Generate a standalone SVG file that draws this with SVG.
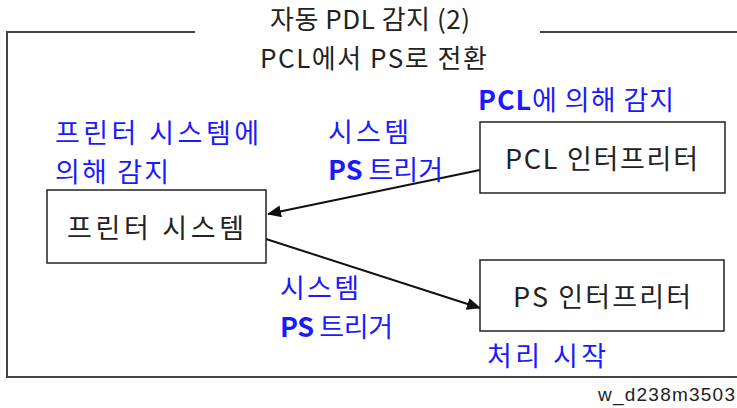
<svg xmlns="http://www.w3.org/2000/svg" width="737" height="408" viewBox="0 0 737 408">
<style>
text{font-family:"Noto Sans CJK KR","Noto Sans",sans-serif;}
.t{font-size:27px;fill:#222;}
.h{font-size:26px;fill:#222;}
.b{font-size:27px;fill:#1a1aff;}
.bb{font-weight:bold;}
.n{fill:#fff;stroke:#222;stroke-width:1.5;}
.c{stroke:#111;stroke-width:2;fill:none;marker-end:url(#ah);}
.f{stroke:#444;stroke-width:2;fill:none;}
</style>
<defs>
<marker id="ah" markerWidth="14" markerHeight="12" refX="13" refY="6" orient="auto" markerUnits="userSpaceOnUse">
<path d="M0,0 L14,6 L0,12 Z" fill="#111"/>
</marker>
</defs>
<g id="frame">
<path class="f" d="M195,32 H7 V377 H737"/>
<path class="f" d="M540,32 H737"/>
<text class="h" x="270" y="29" textLength="200" lengthAdjust="spacing">자동 PDL 감지 (2)</text>
<text class="h" x="260" y="68" textLength="227" lengthAdjust="spacing">PCL에서 PS로 전환</text>
</g>
<g id="connectors">
<line class="c" x1="480" y1="170" x2="268" y2="214"/>
<line class="c" x1="266" y1="239" x2="480" y2="308"/>
</g>
<g id="printer-system">
<rect class="n" x="47" y="190" width="219" height="73"/>
<text class="t" x="67" y="238" textLength="177" lengthAdjust="spacing">프린터 시스템</text>
</g>
<g id="pcl-interpreter">
<rect class="n" x="480" y="122" width="245" height="71"/>
<text class="t" x="505" y="169" textLength="193" lengthAdjust="spacing">PCL 인터프리터</text>
</g>
<g id="ps-interpreter">
<rect class="n" x="480" y="260" width="244" height="71"/>
<text class="t" x="513" y="307" textLength="178" lengthAdjust="spacing">PS 인터프리터</text>
</g>
<g id="labels">
<text class="b" x="55" y="143" textLength="204" lengthAdjust="spacing">프린터 시스템에</text>
<text class="b" x="55" y="182" textLength="114" lengthAdjust="spacing">의해 감지</text>
<text class="b" x="328" y="142" textLength="81" lengthAdjust="spacing">시스템</text>
<text class="b" x="328" y="180" textLength="115" lengthAdjust="spacing"><tspan class="bb">PS</tspan> 트리거</text>
<text class="b" x="478" y="110" textLength="196" lengthAdjust="spacing"><tspan class="bb">PCL</tspan>에 의해 감지</text>
<text class="b" x="280" y="298" textLength="79" lengthAdjust="spacing">시스템</text>
<text class="b" x="280" y="337" textLength="113" lengthAdjust="spacing"><tspan class="bb">PS</tspan> 트리거</text>
<text class="b" x="487" y="366" textLength="119" lengthAdjust="spacing">처리 시작</text>
<text x="598" y="401" textLength="137" lengthAdjust="spacing" style="font-family:'Liberation Sans',sans-serif;font-size:19px;fill:#222">w_d238m3503</text>
</g>
</svg>
